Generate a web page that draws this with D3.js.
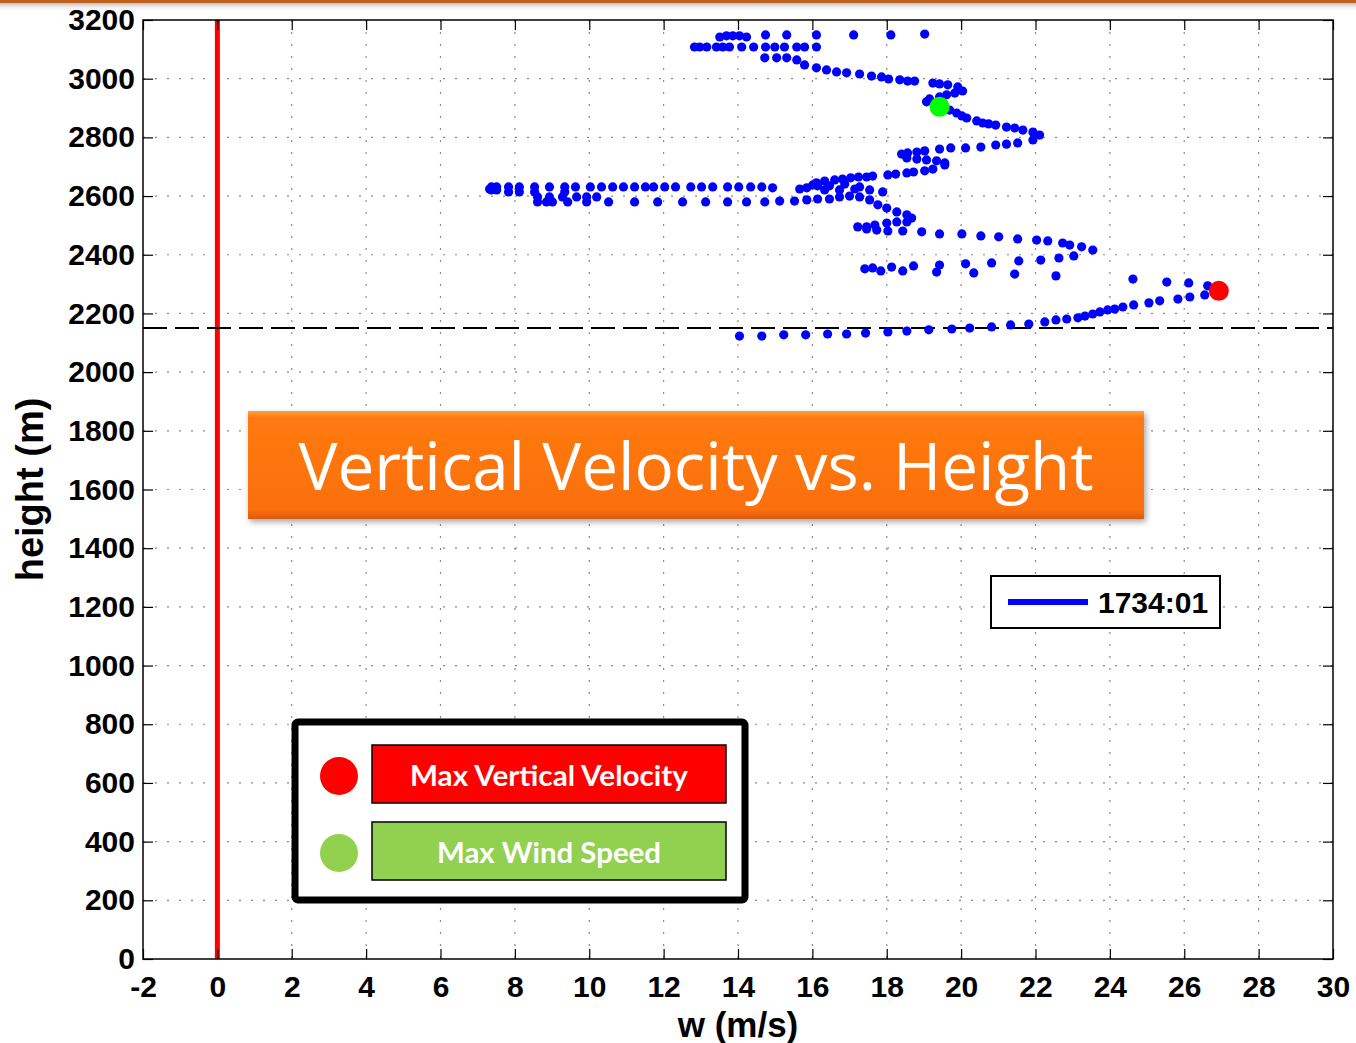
<!DOCTYPE html>
<html>
<head>
<meta charset="utf-8">
<script src="https://cdn.jsdelivr.net/npm/d3@7"></script>
<style>
  body { margin: 0; background: #fff; }
  svg { display: block; }
</style>
</head>
<body>
<script>
// axis ticks
var xTicks = [-2, 0, 2, 4, 6, 8, 10, 12, 14, 16, 18, 20, 22, 24, 26, 28, 30];
var yTicks = [0, 200, 400, 600, 800, 1000, 1200, 1400, 1600, 1800, 2000, 2200, 2400, 2600, 2800, 3000, 3200];

// profile samples [w (m/s), height (m)], bottom to top
var lowerArm = [
  [14.04, 2123], [14.64, 2123], [15.23, 2127], [15.82, 2127], [16.41, 2130], [16.92, 2130],
  [17.43, 2133], [18.03, 2137], [18.54, 2140], [19.13, 2144], [19.75, 2147], [20.23, 2150],
  [20.82, 2154], [21.33, 2161], [21.82, 2164], [22.25, 2171], [22.55, 2178], [22.84, 2181],
  [23.14, 2185], [23.33, 2191], [23.54, 2198], [23.73, 2205], [23.94, 2212], [24.13, 2215],
  [24.35, 2222], [24.64, 2229], [25.05, 2236], [25.34, 2243], [25.83, 2249], [26.15, 2256],
  [26.55, 2263], [26.63, 2294]
];
var scatterBand = [
  [26.12, 2304], [25.53, 2307], [24.62, 2317], [23.03, 2396], [22.63, 2389], [22.55, 2328],
  [22.14, 2382], [21.55, 2379], [21.44, 2334], [20.82, 2372], [20.34, 2338], [20.12, 2369],
  [19.42, 2365], [19.34, 2341], [18.72, 2362], [18.43, 2345], [18.13, 2358], [17.84, 2345],
  [17.62, 2355], [17.41, 2352]
];
var midArm = [
  [23.54, 2416], [23.24, 2427], [22.92, 2433], [22.73, 2440], [22.33, 2447], [22.03, 2450],
  [21.52, 2454], [21.01, 2461], [20.53, 2464], [20.02, 2471], [19.42, 2471], [18.94, 2478],
  [18.43, 2481], [18.03, 2481], [17.73, 2484], [17.46, 2488], [17.22, 2495], [17.46, 2495],
  [17.68, 2501], [18.00, 2508], [18.27, 2512], [18.54, 2512], [18.67, 2525], [18.54, 2536],
  [18.27, 2546], [18.00, 2559], [17.76, 2570], [17.54, 2587], [17.27, 2597], [17.00, 2600],
  [16.73, 2597], [16.46, 2590], [16.14, 2590], [15.85, 2587], [15.52, 2583], [15.12, 2583]
];
var leftArm = [
  [14.72, 2580], [14.23, 2580], [13.72, 2580], [13.13, 2580], [12.51, 2580], [11.84, 2580],
  [11.22, 2580], [10.52, 2580], [9.93, 2580], [9.42, 2580], [9.01, 2580], [8.85, 2580],
  [8.61, 2580], [8.61, 2597], [8.93, 2597], [9.28, 2597], [9.66, 2597], [9.93, 2597],
  [10.20, 2597], [9.34, 2614], [8.53, 2614], [8.12, 2614], [7.83, 2614], [7.51, 2621],
  [7.37, 2621], [7.32, 2624], [7.37, 2631], [7.51, 2631], [7.83, 2631], [8.12, 2631],
  [8.53, 2631], [8.93, 2631], [9.34, 2631], [9.63, 2631], [10.03, 2631], [10.33, 2631],
  [10.63, 2631], [10.92, 2631], [11.22, 2631], [11.51, 2631], [11.73, 2631], [12.03, 2631],
  [12.32, 2631], [12.73, 2631], [13.02, 2631], [13.32, 2631], [13.72, 2631], [14.02, 2631],
  [14.34, 2631], [14.64, 2631], [14.93, 2628], [15.66, 2624], [15.85, 2628]
];
var upperS = [
  [16.01, 2638], [16.11, 2645], [16.33, 2651], [16.60, 2655], [16.81, 2658], [17.03, 2662],
  [17.24, 2665], [17.46, 2665], [17.62, 2668], [18.03, 2672], [18.24, 2675], [18.54, 2679],
  [18.72, 2682], [19.02, 2686], [19.24, 2692], [19.56, 2706], [17.89, 2614], [17.54, 2621],
  [17.14, 2624], [16.73, 2621], [16.33, 2621], [16.14, 2635], [16.46, 2635], [16.87, 2641],
  [17.27, 2631], [19.56, 2713], [19.34, 2720], [19.07, 2723], [18.81, 2726], [18.54, 2730],
  [18.40, 2743], [18.56, 2747], [18.81, 2750], [19.02, 2754], [19.42, 2760], [19.72, 2764],
  [20.12, 2764], [20.53, 2767], [20.93, 2774], [21.22, 2777], [21.52, 2781], [21.93, 2791],
  [22.11, 2808], [21.93, 2818], [21.66, 2825], [21.44, 2832], [21.22, 2835], [20.93, 2842],
  [20.74, 2846], [20.58, 2849], [20.42, 2856], [20.15, 2866], [20.02, 2873], [19.88, 2883],
  [19.69, 2893], [19.56, 2900], [19.29, 2910], [19.07, 2921], [19.15, 2931], [19.42, 2938],
  [19.61, 2945], [19.83, 2951], [20.04, 2958], [19.91, 2972], [19.64, 2979], [19.42, 2982],
  [19.24, 2985], [18.75, 2992], [18.56, 2992], [18.35, 2996], [18.05, 2999], [17.86, 3006],
  [17.59, 3009], [17.27, 3016], [16.92, 3020], [16.65, 3023], [16.38, 3030], [16.11, 3037],
  [15.79, 3047]
];
var topCluster = [
  [15.58, 3064], [15.31, 3071], [15.04, 3071], [14.72, 3071], [16.11, 3108], [15.79, 3108],
  [15.58, 3108], [15.25, 3108], [14.99, 3108], [14.74, 3108], [14.42, 3108], [14.10, 3108],
  [13.77, 3108], [13.59, 3108], [13.42, 3108], [13.16, 3108], [12.97, 3108], [12.83, 3108],
  [13.51, 3142], [13.69, 3146], [13.86, 3146], [14.04, 3146], [14.23, 3142], [14.74, 3149],
  [15.31, 3149], [16.11, 3149], [17.11, 3149], [18.11, 3149], [19.02, 3152]
];
var profile = lowerArm.concat(scatterBand, midArm, leftArm, upperS, topCluster);

var maxVertical = [26.93, 2277];
var maxWind = [19.42, 2904];
var baseHeight = 2150;
var seriesLabel = "1734:01";
var titleText = "Vertical Velocity vs. Height";
var markerLabels = ["Max Vertical Velocity", "Max Wind Speed"];

var W = 1356, H = 1043;
var margin = { left: 143, top: 20, right: 23, bottom: 84 };
var width = W - margin.left - margin.right;
var height = H - margin.top - margin.bottom;

var svg = d3.select("body").append("svg").attr("width", W).attr("height", H);

// slide edge at top
var defs = svg.append("defs");
var fade = defs.append("linearGradient").attr("id", "fade").attr("x1", 0).attr("y1", 0).attr("x2", 0).attr("y2", 1);
fade.append("stop").attr("offset", "0%").attr("stop-color", "#999").attr("stop-opacity", 0.6);
fade.append("stop").attr("offset", "100%").attr("stop-color", "#fff").attr("stop-opacity", 0);
svg.append("rect").attr("x", 0).attr("y", 3).attr("width", W).attr("height", 9).attr("fill", "url(#fade)");
svg.append("rect").attr("x", 0).attr("y", 0).attr("width", W).attr("height", 3).attr("fill", "#c0601c");

var shadow = defs.append("filter").attr("id", "shadow").attr("x", "-5%").attr("y", "-10%").attr("width", "112%").attr("height", "130%");
shadow.append("feDropShadow").attr("dx", 2).attr("dy", 3).attr("stdDeviation", 3).attr("flood-color", "#000").attr("flood-opacity", 0.35);

var orange = defs.append("linearGradient").attr("id", "orange").attr("x1", 0).attr("y1", 0).attr("x2", 0).attr("y2", 1);
orange.append("stop").attr("offset", "0%").attr("stop-color", "#ffa040");
orange.append("stop").attr("offset", "6%").attr("stop-color", "#ff7a12");
orange.append("stop").attr("offset", "92%").attr("stop-color", "#fb6f0c");
orange.append("stop").attr("offset", "100%").attr("stop-color", "#d85a08");

var x = d3.scaleLinear().domain([-2, 30]).range([0, width]);
var y = d3.scaleLinear().domain([0, 3200]).range([height, 0]);

var g = svg.append("g").attr("transform", "translate(" + margin.left + "," + margin.top + ")");

// dotted grid
g.append("g").selectAll("line").data(xTicks.slice(1, -1)).enter().append("line")
  .attr("x1", d => x(d)).attr("x2", d => x(d)).attr("y1", 0).attr("y2", height)
  .attr("stroke", "#8a8a8a").attr("stroke-width", 1.2).attr("stroke-dasharray", "2,10");
g.append("g").selectAll("line").data(yTicks.slice(1, -1)).enter().append("line")
  .attr("y1", d => y(d)).attr("y2", d => y(d)).attr("x1", 0).attr("x2", width)
  .attr("stroke", "#8a8a8a").attr("stroke-width", 1.2).attr("stroke-dasharray", "2,10");

// zero line and base height
g.append("line").attr("x1", x(0)).attr("x2", x(0)).attr("y1", 0).attr("y2", height)
  .attr("stroke", "#ff0000").attr("stroke-width", 5);
g.append("line").attr("x1", 0).attr("x2", width).attr("y1", y(baseHeight)).attr("y2", y(baseHeight))
  .attr("stroke", "#000").attr("stroke-width", 2).attr("stroke-dasharray", "24,8");

// axes, inward ticks like matlab
var tickFont = "'Liberation Sans', Arial, Helvetica, sans-serif";
function styleAxis(sel) {
  sel.select(".domain").remove();
  sel.selectAll(".tick line").attr("stroke", "#000").attr("stroke-width", 1.2);
  sel.selectAll(".tick text").attr("fill", "#000").style("font-family", tickFont)
    .style("font-size", "30px").style("font-weight", "bold");
}
g.append("g").attr("transform", "translate(0," + height + ")")
  .call(d3.axisBottom(x).tickValues(xTicks).tickSize(-10).tickPadding(17).tickFormat(d => String(d)))
  .call(styleAxis);
g.append("g")
  .call(d3.axisTop(x).tickValues(xTicks).tickSize(-10).tickFormat(""))
  .call(styleAxis);
g.append("g")
  .call(d3.axisLeft(y).tickValues(yTicks).tickSize(-10).tickPadding(8).tickFormat(d => String(d)))
  .call(styleAxis);
g.append("g").attr("transform", "translate(" + width + ",0)")
  .call(d3.axisRight(y).tickValues(yTicks).tickSize(-10).tickFormat(""))
  .call(styleAxis);
g.append("rect").attr("width", width).attr("height", height)
  .attr("fill", "none").attr("stroke", "#000").attr("stroke-width", 1.5);

// axis labels
svg.append("text").attr("x", margin.left + width / 2).attr("y", 1037)
  .attr("text-anchor", "middle").style("font-family", tickFont).style("font-size", "35px")
  .style("font-weight", "bold").text("w (m/s)");
svg.append("text").attr("transform", "translate(43," + (margin.top + height / 2) + ") rotate(-90)")
  .attr("text-anchor", "middle").style("font-family", tickFont).style("font-size", "38px")
  .style("font-weight", "bold").text("height (m)");

// profile dots
g.append("g").selectAll("circle").data(profile).enter().append("circle")
  .attr("cx", d => x(d[0])).attr("cy", d => y(d[1])).attr("r", 4.6).attr("fill", "#0000ff");

g.append("circle").attr("cx", x(maxVertical[0])).attr("cy", y(maxVertical[1])).attr("r", 10).attr("fill", "#ff0000");
g.append("circle").attr("cx", x(maxWind[0])).attr("cy", y(maxWind[1])).attr("r", 10).attr("fill", "#00ff00");

// series legend
var lg = svg.append("g").attr("transform", "translate(991,576)");
lg.append("rect").attr("width", 229).attr("height", 52).attr("fill", "#fff").attr("stroke", "#000").attr("stroke-width", 2);
lg.append("line").attr("x1", 17).attr("x2", 97).attr("y1", 26).attr("y2", 26).attr("stroke", "#0000ff").attr("stroke-width", 6);
lg.append("text").attr("x", 107).attr("y", 37).style("font-family", tickFont).style("font-size", "30px")
  .style("font-weight", "bold").text(seriesLabel);

// title banner
var tb = svg.append("g").attr("transform", "translate(248,411)");
tb.append("rect").attr("width", 896).attr("height", 108).attr("fill", "url(#orange)").attr("filter", "url(#shadow)");
tb.append("text").attr("x", 448).attr("y", 79).attr("text-anchor", "middle")
  .attr("textLength", 795).attr("lengthAdjust", "spacingAndGlyphs")
  .style("font-family", "'Open Sans', Lato, sans-serif").style("font-size", "66px").attr("fill", "#fff")
  .text(titleText);

// marker legend
var ml = svg.append("g").attr("transform", "translate(295,722)");
ml.append("rect").attr("width", 450).attr("height", 178).attr("rx", 3).attr("fill", "#fff")
  .attr("stroke", "#000").attr("stroke-width", 7);
var markerColors = ["#ff0000", "#92d050"];
var markerTextWidth = [278, 224];
markerLabels.forEach(function (label, i) {
  var cy = 54 + i * 77;
  ml.append("circle").attr("cx", 44).attr("cy", cy).attr("r", 19).attr("fill", markerColors[i]);
  ml.append("rect").attr("x", 77).attr("y", cy - 31).attr("width", 354).attr("height", 58)
    .attr("fill", markerColors[i]).attr("stroke", "#000").attr("stroke-width", 1.5);
  ml.append("text").attr("x", 254).attr("y", cy + 10).attr("text-anchor", "middle")
    .attr("textLength", markerTextWidth[i]).attr("lengthAdjust", "spacingAndGlyphs")
    .style("font-family", "Lato, 'Open Sans', sans-serif").style("font-size", "29px")
    .style("font-weight", "bold").attr("fill", "#fff").text(label);
});
</script>
</body>
</html>
